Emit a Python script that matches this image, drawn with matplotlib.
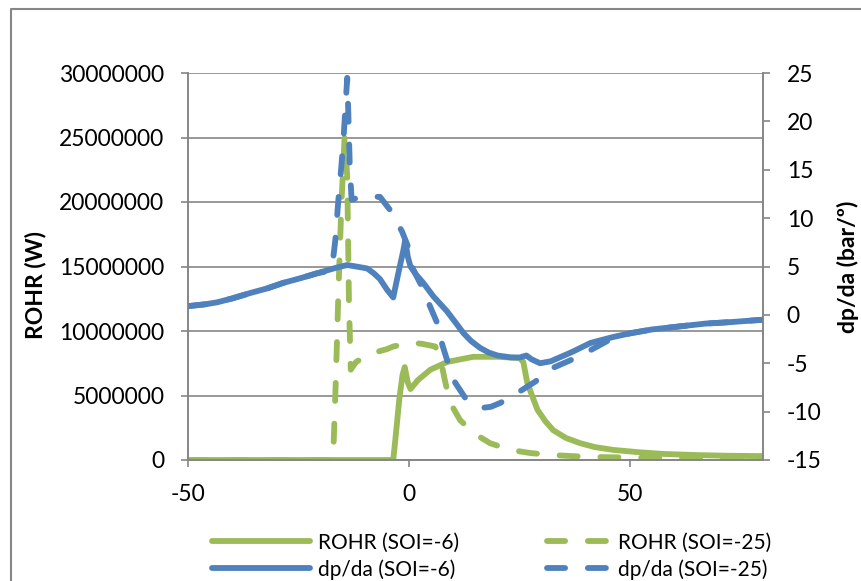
import matplotlib
matplotlib.use("Agg")
import matplotlib.pyplot as plt
from matplotlib.lines import Line2D

plt.rcParams['font.family'] = ['Lato', 'DejaVu Sans']
plt.rcParams['axes.unicode_minus'] = False

green = '#9BBB59'
blue = '#4F81BD'
grey = '#868686'

# ROHR (W), SOI=-6  (left axis)
rohr6_x = [-50, -3.6, -3.0, -2.2, -1.5, -1.0, -0.3, 0.3, 2, 4.8, 8.6, 14.5, 20, 25, 25.8,
           26.7, 28, 29, 30.8, 32.6, 35.5, 38.7, 42, 46.2, 52, 57.5, 65, 72, 80]
rohr6_y = [0, 0, 2.0e6, 4.8e6, 6.6e6, 7.2e6, 6.0e6, 5.5e6, 6.2e6, 7.0e6, 7.6e6, 8.0e6, 8.0e6,
           7.9e6, 7.6e6, 6.0e6, 4.8e6, 3.9e6, 3.0e6, 2.3e6, 1.7e6, 1.3e6, 1.0e6, 0.78e6, 0.6e6,
           0.47e6, 0.38e6, 0.33e6, 0.3e6]

# ROHR (W), SOI=-25
rohr25_x = [-50, -17.2, -16.6, -16.0, -15.3, -14.6, -14.0, -13.6, -13.2, -12, -10, -8.1, -5,
            -3.6, 0.7, 3, 5.9, 7.0, 8.0, 8.6, 10, 11.5, 14.5, 18.3, 22.9, 27.4, 31.9, 37, 42,
            50, 60, 70, 80]
rohr25_y = [0, 0, 6e6, 13e6, 20e6, 25e6, 22e6, 12e6, 7.0e6, 7.6e6, 8.0e6, 8.3e6, 8.6e6,
            8.8e6, 9.1e6, 9.0e6, 8.8e6, 8.0e6, 6.3e6, 5.4e6, 4.0e6, 3.1e6, 2.1e6, 1.3e6,
            0.78e6, 0.54e6, 0.39e6, 0.3e6, 0.23e6, 0.19e6, 0.16e6, 0.15e6, 0.15e6]

# dp/da (bar/deg), SOI=-6  (right axis)
dp6_x = [-50, -46, -43.4, -40, -36, -32, -28.5, -24.5, -20.8, -16.3, -14, -12, -9.5, -8,
         -6.6, -5, -3.6, -2.5, -1.3, -0.9, -0.3, 0.3, 1.5, 3.2, 5.5, 8.5, 10.5, 12.3, 14, 16,
         18, 20, 23, 25, 26.5, 27.7, 29.6, 32, 34, 37, 41, 46, 50, 55, 61, 67, 72.6, 80]
dp6_y = [0.9, 1.1, 1.3, 1.7, 2.25, 2.75, 3.3, 3.8, 4.3, 4.9, 5.15, 5.0, 4.8, 4.3, 3.7, 2.6,
         1.8, 4.2, 6.7, 7.7, 6.0, 5.0, 4.2, 3.3, 1.9, 0.4, -0.8, -1.9, -2.7, -3.4, -3.9, -4.2,
         -4.4, -4.4, -4.2, -4.6, -5.0, -4.8, -4.4, -3.8, -2.9, -2.3, -1.9, -1.5, -1.2, -0.9,
         -0.75, -0.5]

# dp/da (bar/deg), SOI=-25
dp25_x = [-50, -46, -43.4, -40, -36, -32, -28.5, -24.5, -20.8, -17.5, -16.7, -16.0, -15.3,
          -14.8, -14.4, -14.0, -13.7, -13.4, -13.0, -11, -8, -6.6, -3.9, -1.6, -0.2, 0.6, 2.9,
          4.8, 6.3, 7.5, 8.8, 10.4, 12.7, 14.5, 16.7, 18.5, 20.6, 22.5, 24.7, 28.5, 32.4,
          36.4, 40, 46, 50, 55, 61, 67, 72.6, 80]
dp25_y = [0.9, 1.1, 1.3, 1.7, 2.25, 2.75, 3.3, 3.8, 4.3, 4.6, 7.7, 11.9, 15.5, 18.5, 21.5,
          24.5, 20, 15, 11.9, 12.2, 12.2, 12.2, 10.6, 8.6, 7.0, 5.0, 2.9, 0.8, -0.8, -3.1,
          -5.0, -7.0, -8.6, -9.3, -9.6, -9.5, -9.1, -8.6, -8.0, -6.9, -5.5, -4.7, -3.9, -2.4,
          -1.9, -1.5, -1.2, -0.9, -0.75, -0.5]

x_ticks = [-50, 0, 50]
left_ticks = [0, 5000000, 10000000, 15000000, 20000000, 25000000, 30000000]
right_ticks = [-15, -10, -5, 0, 5, 10, 15, 20, 25]

fig = plt.figure(figsize=(8.61, 5.81), dpi=100)
ax = fig.add_axes([188/861, 1-460/581, (763-188)/861, (460-73)/581])
ax2 = ax.twinx()

lw = 4.2
dash = (0, (3.1, 3.9))
ax.plot(rohr6_x, rohr6_y, color=green, lw=lw, solid_capstyle='round', solid_joinstyle='round')
ax.plot(rohr25_x, rohr25_y, color=green, lw=lw, ls=dash, dash_capstyle='round', dash_joinstyle='round')
ax2.plot(dp6_x, dp6_y, color=blue, lw=lw, solid_capstyle='round', solid_joinstyle='round')
ax2.plot(dp25_x, dp25_y, color=blue, lw=lw, ls=dash, dash_capstyle='round', dash_joinstyle='round')

ax.set_xlim(-50, 80)
ax.set_ylim(0, 30000000)
ax2.set_ylim(-15, 25)
ax.set_xticks(x_ticks)
ax.set_yticks(left_ticks)
ax.set_yticklabels([str(v) for v in left_ticks])
ax2.set_yticks(right_ticks)

ax.grid(axis='y', color=grey, lw=1.2)
ax.set_axisbelow(True)
for a in (ax, ax2):
    a.spines['top'].set_visible(False)
    for s in ('left', 'right', 'bottom'):
        a.spines[s].set_color(grey)
        a.spines[s].set_linewidth(1.2)
    a.tick_params(direction='out', length=5, width=1.2, color=grey, labelsize=16.5, pad=12)

fig.text(35/861, 1-285/581, 'ROHR (W)', rotation=90, ha='center', va='center',
         fontsize=16.5, fontweight='bold')
fig.text(848/861, 1-267/581, 'dp/da (bar/º)', rotation=90, ha='center', va='center',
         fontsize=16.5, fontweight='bold')

# chart area border (left and top visible)
fig.add_artist(Line2D([10.5/861, 10.5/861, 1.0], [0.0, 1-9/581, 1-9/581],
                      transform=fig.transFigure, color=grey, lw=1.5))

h_solid = [Line2D([], [], color=green, lw=lw, solid_capstyle='round'),
           Line2D([], [], color=blue, lw=lw, solid_capstyle='round')]
h_dash = [Line2D([], [], color=green, lw=lw, ls=dash, dash_capstyle='round'),
          Line2D([], [], color=blue, lw=lw, ls=dash, dash_capstyle='round')]
leg_kw = dict(loc='center left', frameon=False, fontsize=15, borderpad=0, borderaxespad=0,
              handletextpad=0.4, labelspacing=0.32)
fig.legend(h_solid, ['ROHR (SOI=-6)', 'dp/da (SOI=-6)'], handlelength=4.7,
           bbox_to_anchor=(212/861, 1-556/581), **leg_kw)
fig.legend(h_dash, ['ROHR (SOI=-25)', 'dp/da (SOI=-25)'], handlelength=3.0,
           bbox_to_anchor=(547/861, 1-556/581), **leg_kw)

fig.savefig('out.png', dpi=100)
